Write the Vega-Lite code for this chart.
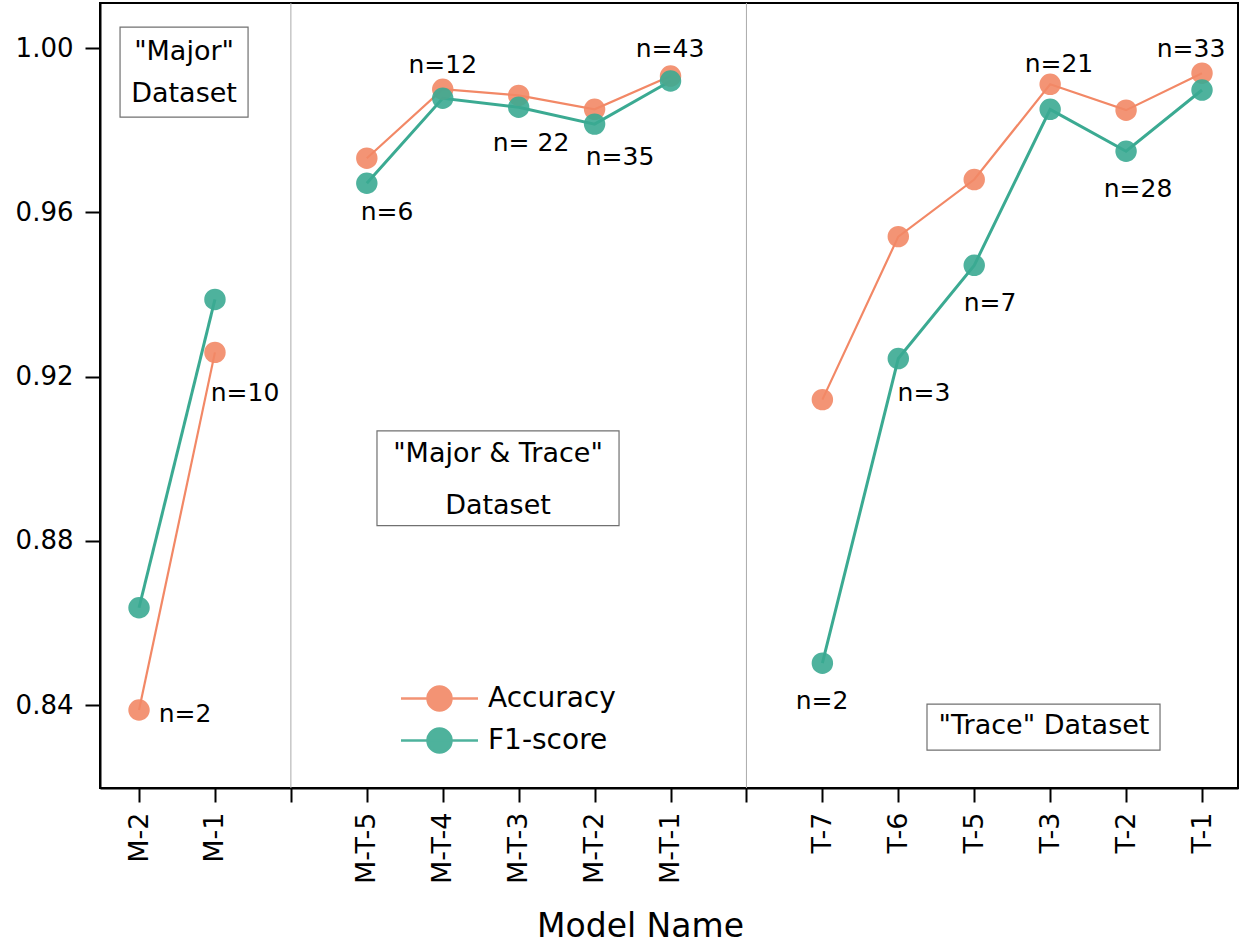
{
  "$schema": "https://vega.github.io/schema/vega-lite/v6.json",
  "width": 1138,
  "height": 785,
  "autosize": {"type": "none"},
  "padding": {"left": 100, "top": 3, "right": 2, "bottom": 162},
  "background": "white",
  "config": {
    "font": "DejaVu Sans",
    "view": {"stroke": "black", "strokeWidth": 2},
    "axis": {"grid": false, "domainColor": "black", "domainWidth": 2, "tickColor": "black", "tickWidth": 2, "labelColor": "black", "titleColor": "black", "labelFont": "DejaVu Sans", "titleFont": "DejaVu Sans", "titleFontWeight": "normal"},
    "legend": {"labelFont": "DejaVu Sans"}
  },
  "resolve": {"legend": {"color": "independent"}},
  "datasets": {
    "scores": [
      {"pos": 1, "model": "M-2", "metric": "Accuracy", "value": 0.8388},
      {"pos": 2, "model": "M-1", "metric": "Accuracy", "value": 0.9259},
      {"pos": 4, "model": "M-T-5", "metric": "Accuracy", "value": 0.9732},
      {"pos": 5, "model": "M-T-4", "metric": "Accuracy", "value": 0.9900},
      {"pos": 6, "model": "M-T-3", "metric": "Accuracy", "value": 0.9885},
      {"pos": 7, "model": "M-T-2", "metric": "Accuracy", "value": 0.9851},
      {"pos": 8, "model": "M-T-1", "metric": "Accuracy", "value": 0.9932},
      {"pos": 10, "model": "T-7", "metric": "Accuracy", "value": 0.9144},
      {"pos": 11, "model": "T-6", "metric": "Accuracy", "value": 0.9541},
      {"pos": 12, "model": "T-5", "metric": "Accuracy", "value": 0.9680},
      {"pos": 13, "model": "T-3", "metric": "Accuracy", "value": 0.9912},
      {"pos": 14, "model": "T-2", "metric": "Accuracy", "value": 0.9849},
      {"pos": 15, "model": "T-1", "metric": "Accuracy", "value": 0.9939},
      {"pos": 1, "model": "M-2", "metric": "F1-score", "value": 0.8637},
      {"pos": 2, "model": "M-1", "metric": "F1-score", "value": 0.9388},
      {"pos": 4, "model": "M-T-5", "metric": "F1-score", "value": 0.9671},
      {"pos": 5, "model": "M-T-4", "metric": "F1-score", "value": 0.9878},
      {"pos": 6, "model": "M-T-3", "metric": "F1-score", "value": 0.9856},
      {"pos": 7, "model": "M-T-2", "metric": "F1-score", "value": 0.9815},
      {"pos": 8, "model": "M-T-1", "metric": "F1-score", "value": 0.9920},
      {"pos": 10, "model": "T-7", "metric": "F1-score", "value": 0.8502},
      {"pos": 11, "model": "T-6", "metric": "F1-score", "value": 0.9244},
      {"pos": 12, "model": "T-5", "metric": "F1-score", "value": 0.9471},
      {"pos": 13, "model": "T-3", "metric": "F1-score", "value": 0.9851},
      {"pos": 14, "model": "T-2", "metric": "F1-score", "value": 0.9749},
      {"pos": 15, "model": "T-1", "metric": "F1-score", "value": 0.9898}
    ],
    "counts": [
      {"label": "n=2", "x": 1.606, "y": 0.8378},
      {"label": "n=10", "x": 2.396, "y": 0.9161},
      {"label": "n=6", "x": 4.266, "y": 0.9602},
      {"label": "n=12", "x": 5.0, "y": 0.9958},
      {"label": "n= 22", "x": 6.163, "y": 0.9768},
      {"label": "n=35", "x": 7.335, "y": 0.9734},
      {"label": "n=43", "x": 7.993, "y": 0.9998},
      {"label": "n=2", "x": 9.995, "y": 0.8410},
      {"label": "n=3", "x": 11.338, "y": 0.9159},
      {"label": "n=7", "x": 12.208, "y": 0.9380},
      {"label": "n=21", "x": 13.116, "y": 0.9961},
      {"label": "n=28", "x": 14.157, "y": 0.9658},
      {"label": "n=33", "x": 14.855, "y": 0.9998}
    ],
    "boxes": [
      {"name": "Major", "x": 0.75, "x2": 2.436, "y": 1.0051, "y2": 0.9832},
      {"name": "Major & Trace", "x": 4.134, "x2": 7.322, "y": 0.9068, "y2": 0.8837},
      {"name": "Trace", "x": 11.378, "x2": 14.447, "y": 0.84024, "y2": 0.82902}
    ],
    "boxtext": [
      {"text": "\"Major\"", "x": 1.593, "y": 0.99900},
      {"text": "Dataset", "x": 1.593, "y": 0.98875},
      {"text": "\"Major & Trace\"", "x": 5.728, "y": 0.90119},
      {"text": "Dataset", "x": 5.728, "y": 0.88851},
      {"text": "\"Trace\" Dataset", "x": 12.919, "y": 0.83485}
    ],
    "separators": [{"x": 3}, {"x": 9}]
  },
  "layer": [
    {
      "data": {"name": "separators"},
      "mark": {"type": "rule", "color": "#aaaaaa", "strokeWidth": 1},
      "encoding": {
        "x": {"field": "x", "type": "quantitative", "scale": {"domain": [0.486, 15.474], "nice": false, "zero": false}}
      }
    },
    {
      "data": {"name": "boxes"},
      "mark": {"type": "rect", "fill": "white", "stroke": "#707070", "strokeWidth": 1.2},
      "encoding": {
        "x": {"field": "x", "type": "quantitative"},
        "x2": {"field": "x2"},
        "y": {"field": "y", "type": "quantitative"},
        "y2": {"field": "y2"}
      }
    },
    {
      "data": {"name": "boxtext"},
      "mark": {"type": "text", "fontSize": 27, "color": "black", "align": "center", "baseline": "middle"},
      "encoding": {
        "x": {"field": "x", "type": "quantitative"},
        "y": {"field": "y", "type": "quantitative"},
        "text": {"field": "text"}
      }
    },
    {
      "data": {"name": "scores"},
      "transform": [{"calculate": "datum.pos <= 2 ? 'M' : (datum.pos <= 8 ? 'MT' : 'T')", "as": "group"}],
      "mark": {"type": "line"},
      "encoding": {
        "x": {"field": "pos", "type": "quantitative"},
        "y": {"field": "value", "type": "quantitative"},
        "detail": {"field": "group"},
        "color": {"field": "metric", "type": "nominal", "legend": null},
        "strokeWidth": {"field": "metric", "type": "nominal", "scale": {"domain": ["Accuracy", "F1-score"], "range": [2.2, 3]}, "legend": null}
      }
    },
    {
      "data": {"name": "scores"},
      "mark": {"type": "point", "filled": true, "size": 460, "opacity": 0.9},
      "encoding": {
        "x": {
          "field": "pos", "type": "quantitative",
          "scale": {"domain": [0.486, 15.474], "nice": false, "zero": false},
          "axis": {
            "values": [1, 2, 3, 4, 5, 6, 7, 8, 9, 10, 11, 12, 13, 14, 15],
            "labelExpr": "({'1':'M-2','2':'M-1','3':'','4':'M-T-5','5':'M-T-4','6':'M-T-3','7':'M-T-2','8':'M-T-1','9':'','10':'T-7','11':'T-6','12':'T-5','13':'T-3','14':'T-2','15':'T-1'})[''+datum.value]",
            "labelAngle": 270,
            "labelFontSize": 27,
            "tickSize": 14,
            "labelPadding": 10,
            "title": "Model Name",
            "titleFontSize": 33,
            "titlePadding": 27,
            "titleX": 540,
            "titleAlign": "center"
          }
        },
        "y": {
          "field": "value", "type": "quantitative",
          "scale": {"domain": [0.8198, 1.011], "nice": false, "zero": false},
          "axis": {
            "values": [0.84, 0.88, 0.92, 0.96, 1.0],
            "format": ".2f",
            "labelFontSize": 26,
            "tickSize": 15,
            "labelPadding": 12,
            "title": null
          }
        },
        "color": {
          "field": "metric", "type": "nominal",
          "scale": {"domain": ["Accuracy", "F1-score"], "range": ["#F28866", "#3BAA92"]},
          "legend": {
            "title": null,
            "orient": "none",
            "legendX": 318,
            "legendY": 674,
            "labelFontSize": 28,
            "labelColor": "black",
            "symbolType": "M-1.925,0L1.925,0M-0.6,0A0.6,0.6,0,1,0,0.6,0A0.6,0.6,0,1,0,-0.6,0Z",
            "symbolSize": 1600,
            "symbolStrokeWidth": 2.5,
            "symbolOpacity": 0.9,
            "rowPadding": 3,
            "labelOffset": 27,
            "encode": {"symbols": {"update": {"stroke": {"scale": "color", "field": "value"}}}}
          }
        }
      }
    },
    {
      "data": {"name": "counts"},
      "mark": {"type": "text", "fontSize": 25, "color": "black", "align": "center", "baseline": "middle"},
      "encoding": {
        "x": {"field": "x", "type": "quantitative"},
        "y": {"field": "y", "type": "quantitative"},
        "text": {"field": "label"}
      }
    }
  ]
}
